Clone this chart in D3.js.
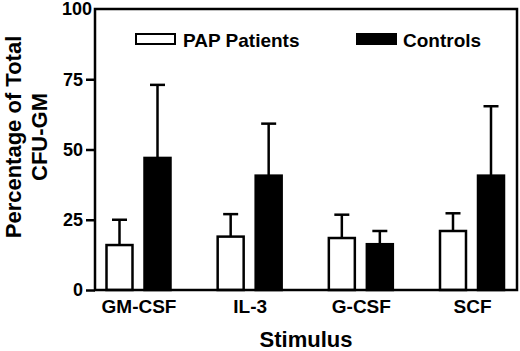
<!DOCTYPE html>
<html>
<head>
<meta charset="utf-8">
<script src="https://cdn.jsdelivr.net/npm/d3@7"></script>
<style>
  body { margin: 0; background: #fff; }
  text { font-family: Arial, "Liberation Sans", sans-serif; font-weight: bold; fill: #000; }
</style>
</head>
<body>
<script>
// Data
var categories = ["GM-CSF", "IL-3", "G-CSF", "SCF"];
var series = ["PAP Patients", "Controls"];
var papMeans = [16, 19, 18.5, 21];
var papErr = [9, 8, 8.3, 6.3];
var controlMeans = [47, 40.7, 16.3, 40.7];
var controlErr = [26, 18.5, 4.7, 24.7];
var yTicks = [0, 25, 50, 75, 100];

var W = 520, H = 351;
var plot = {left: 95, right: 517, top: 9, bottom: 290};

var svg = d3.select("body").append("svg")
  .attr("width", W)
  .attr("height", H);

// Scales
var yScale = d3.scaleLinear().domain([0, 100]).range([plot.bottom, plot.top]);
var xScale = d3.scalePoint().domain(categories).range([138.5, 472]);
var xInner = d3.scaleBand().domain(series).range([-32, 32]).paddingInner(0.316);

var rows = [];
categories.forEach(function(c, i) {
  rows.push({cat: c, s: series[0], v: papMeans[i], e: papErr[i]});
  rows.push({cat: c, s: series[1], v: controlMeans[i], e: controlErr[i]});
});

// Error bars (upper only)
var eb = svg.append("g").selectAll("g").data(rows).enter().append("g")
  .attr("transform", function(d) {
    return "translate(" + (xScale(d.cat) + xInner(d.s) + xInner.bandwidth() / 2) + ",0)";
  });
eb.append("line")
  .attr("x1", 0).attr("x2", 0)
  .attr("y1", function(d) { return yScale(d.v); })
  .attr("y2", function(d) { return yScale(d.v + d.e); })
  .style("stroke", "#000").style("stroke-width", 2.5);
eb.append("line")
  .attr("x1", -7.5).attr("x2", 7.5)
  .attr("y1", function(d) { return yScale(d.v + d.e); })
  .attr("y2", function(d) { return yScale(d.v + d.e); })
  .style("stroke", "#000").style("stroke-width", 2.5);

// Bars
svg.append("g").selectAll("rect").data(rows).enter().append("rect")
  .attr("x", function(d) { return xScale(d.cat) + xInner(d.s); })
  .attr("y", function(d) { return yScale(d.v); })
  .attr("width", xInner.bandwidth())
  .attr("height", function(d) { return yScale(0) - yScale(d.v); })
  .style("fill", function(d) { return d.s === series[0] ? "#fff" : "#000"; })
  .style("stroke", "#000")
  .style("stroke-width", 2.5);

// Frame
svg.append("rect")
  .attr("x", plot.left).attr("y", plot.top)
  .attr("width", plot.right - plot.left)
  .attr("height", plot.bottom - plot.top)
  .style("fill", "none")
  .style("stroke", "#000")
  .style("stroke-width", 2.5);

// Y axis
var yAxis = svg.append("g")
  .attr("transform", "translate(" + plot.left + ",0)")
  .call(d3.axisLeft(yScale).tickValues(yTicks).tickSize(9).tickSizeOuter(0).tickPadding(3));
yAxis.select(".domain").remove();
yAxis.selectAll(".tick line").style("stroke-width", 2.5);
yAxis.selectAll(".tick text").style("font-size", "18px");
yAxis.selectAll(".tick").filter(function(d) { return d === 100; })
  .call(function(t) {
    t.select("line").remove();
    t.select("text").attr("x", -3);
  });

// X axis labels
var xAxis = svg.append("g")
  .attr("transform", "translate(0," + plot.bottom + ")")
  .call(d3.axisBottom(xScale).tickSize(0));
xAxis.select(".domain").remove();
xAxis.selectAll(".tick text")
  .attr("y", 23).attr("dy", 0)
  .style("font-size", "19px");

// Axis titles
svg.append("text")
  .attr("x", (plot.left + plot.right) / 2)
  .attr("y", 347)
  .attr("text-anchor", "middle")
  .style("font-size", "22px")
  .text("Stimulus");

var yTitle = svg.append("text")
  .attr("transform", "translate(21,137) rotate(-90)")
  .attr("text-anchor", "middle")
  .style("font-size", "22px");
yTitle.append("tspan").attr("x", 0).attr("y", 0).text("Percentage of Total");
yTitle.append("tspan").attr("x", 0).attr("y", 26).text("CFU-GM");

// Legend
var legend = [
  {label: series[0], fill: "#fff", rx: 136, tx: 183},
  {label: series[1], fill: "#000", rx: 357, tx: 403}
];
var lg = svg.append("g").selectAll("g").data(legend).enter().append("g");
lg.append("rect")
  .attr("x", function(d) { return d.rx; })
  .attr("y", 34)
  .attr("width", 39)
  .attr("height", 10)
  .style("fill", function(d) { return d.fill; })
  .style("stroke", "#000")
  .style("stroke-width", 2);
lg.append("text")
  .attr("x", function(d) { return d.tx; })
  .attr("y", 47)
  .style("font-size", "19px")
  .text(function(d) { return d.label; });
</script>
</body>
</html>
